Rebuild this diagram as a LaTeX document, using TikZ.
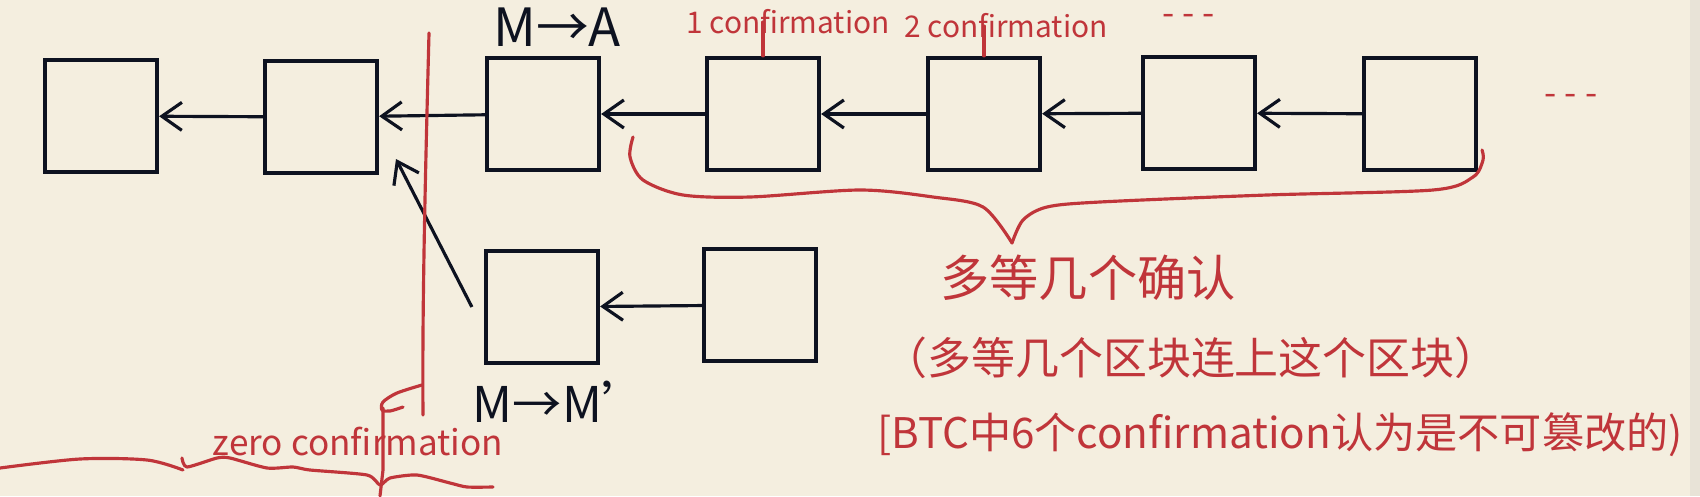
\documentclass[tikz,border=0pt]{standalone}
\usepackage{fontspec}
\setmainfont{Noto Sans CJK SC}
\usetikzlibrary{arrows.meta}
\definecolor{paper}{HTML}{F4EEDF}
\definecolor{edge}{HTML}{E8E3D7}
\definecolor{ink}{HTML}{0D1220}
\definecolor{pen}{HTML}{C0353A}
\tikzset{
  blk/.style={draw=ink, line width=1.2pt, minimum width=11.2mm, minimum height=11.2mm, inner sep=0pt},
  link/.style={draw=ink, line width=0.9pt, -{Straight Barb[length=2mm, width=2.8mm, line width=0.9pt]}},
  tag/.style={text=ink, inner sep=0pt, font=\fontsize{15}{15}\selectfont},
  note/.style={text=pen, inner sep=0pt},
  redline/.style={draw=pen, line width=0.9pt, line cap=round, line join=round}
}
\begin{document}
\begin{tikzpicture}[x=0.1mm, y=-0.1mm]
		\fill[paper] (0, 0) rectangle (1700, 496);
		\fill[edge] (1690, 0) rectangle (1700, 496);
		\useasboundingbox (0, 0) rectangle (1700, 496);
		% main chain
		\node[blk] (b1) at (101, 116) {};
		\node[blk] (b2) at (321, 117) {};
		\node[blk] (b3) at (543, 114) {};
		\node[blk] (b4) at (763, 114) {};
		\node[blk] (b5) at (984, 114) {};
		\node[blk] (b6) at (1199, 113) {};
		\node[blk] (b7) at (1420, 114) {};
		\draw[link] (b2) -- (b1);
		\draw[link] (b3) -- (b2);
		\draw[link] (b4) -- (b3);
		\draw[link] (b5) -- (b4);
		\draw[link] (b6) -- (b5);
		\draw[link] (b7) -- (b6);
		% fork
		\node[blk] (f1) at (542, 307) {};
		\node[blk] (f2) at (760, 305) {};
		\draw[link] (f2) -- (f1);
		\coordinate (fork) at (396, 159);
		\draw[link] ([xshift=-1.2mm]f1.west) -- (fork);
		\node[tag] (ma) at (557, 27) {M→A};
		\node[tag, font=\fontsize{14}{14}\selectfont] (mm) at (562, 402) {M→M'};
		% confirmations
		\node[note, font=\fontsize{8.5}{8.5}\selectfont] (c1) at (788, 22) {1 confirmation};
		\node[note, font=\fontsize{8.5}{8.5}\selectfont] (c2) at (1006, 26) {2 confirmation};
		\draw[redline] (b4.north) -- (b4.north |- c1.center);
		\draw[redline] (b5.north) -- (b5.north |- c2.center);
		\node[note, font=\fontsize{10}{10}\selectfont] (more) at (1189, 20) {- - -};
		\node[note, font=\fontsize{10}{10}\selectfont] (tail) at (1571, 100) {- - -};
		% brace
		\draw[redline] plot[smooth] coordinates {(633, 137) (630, 157) (643, 180) (683, 195) (750, 197) (860, 190) (933, 197) (983, 207) (1012, 243)};
		\draw[redline] plot[smooth] coordinates {(1012, 243) (1023, 220) (1047, 207) (1100, 202) (1267, 195) (1433, 190) (1473, 177) (1483, 160) (1482, 150)};
		\node[note, font=\fontsize{14}{14}\selectfont] (wait) at (1088, 278) {多等几个确认};
		\node[note, font=\fontsize{12.5}{12.5}\selectfont] (why) at (1191, 358) {（多等几个区块连上这个区块）};
		\node[note, font=\fontsize{12}{12}\selectfont] (btc) at (1280, 435) {[BTC中6个confirmation认为是不可篡改的)};
		% zero confirmation line
		\draw[redline] (429, 33) .. controls (426, 150) and (422, 300) .. (423, 415);
		\draw[redline] plot[smooth] coordinates {(422, 385) (397, 393) (383, 402) (382, 410) (390, 411) (403, 407)};
		\draw[redline] (383, 408) -- (383, 470) -- (380, 496);
		\node[note, font=\fontsize{10}{10}\selectfont] (zero) at (358, 442) {zero confirmation};
		\draw[redline] plot[smooth] coordinates {(0, 468) (80, 459) (147, 460) (183, 470)};
		\draw[redline] plot[smooth, tension=0.4] coordinates {(182, 458) (187, 467) (217, 458) (230, 458) (267, 468) (293, 467) (310, 470) (367, 475) (380, 485) (390, 478) (417, 475) (450, 483) (467, 487) (493, 487)};
	\end{tikzpicture}
\end{document}
